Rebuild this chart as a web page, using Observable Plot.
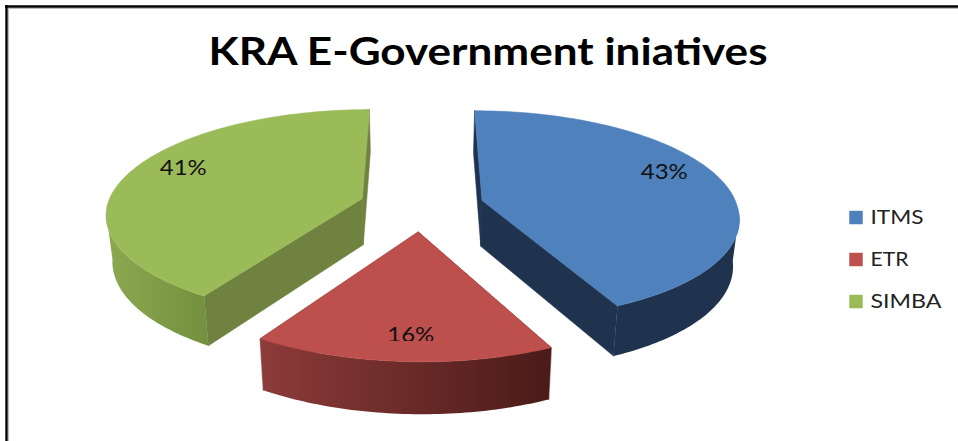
<!DOCTYPE html>
<html>
<head>
<meta charset="utf-8">
<script src="https://cdn.jsdelivr.net/npm/d3@7"></script>
<script src="https://cdn.jsdelivr.net/npm/@observablehq/plot@0.6"></script>
<style>
  html, body { margin: 0; padding: 0; background: #fff; }
</style>
</head>
<body>
<div id="chart"></div>
<script>
// Chart content
const title = "KRA E-Government iniatives";
const names = ["ITMS", "ETR", "SIMBA"];
const shares = [43, 16, 41];
const topColors = ["#4f81bd", "#bd504c", "#9bbb59"];
const cutColors = ["#1f334e", "#6d2a28", "#6f8240"];
const sideStart = ["#1f334e", "#8c3b39", "#8ca850"];
const sideEnd = ["#1f334e", "#4a1b19", "#74903f"];

// Layout of the tilted pie
const W = 958, H = 441;
const view = {cx: 421, cy: 205.3, rx: 255, ry: 103.5, tilt: 0.14, skew: 0.035};
const explode = 0.245;
const depth = {shrink: 0.98, base: 46, grow: 0.04};
const labelBearing = [69.4, 182.5, 292.5];
const labelRadius = 0.81;
const rad = Math.PI / 180;

// Perspective of a point on the pie's top plane
function project(X, Y) {
  const w = 1 + view.tilt * Y;
  const y = view.cy - view.ry * Y / w;
  return [view.cx + view.rx * X / w + view.skew * Math.max(0, y - view.cy), y];
}
// The same point at the bottom of the extrusion
function drop([x, y]) {
  return [view.cx + (x - view.cx) * depth.shrink, y + depth.base + (y - 200) * depth.grow];
}

// Angular extent of every slice, clockwise from twelve o'clock
let running = 0;
const slices = shares.map((v, i) => {
  const a0 = running * 3.6;
  running += v;
  const a1 = running * 3.6;
  const mid = (a0 + a1) / 2;
  return {
    i, a0, a1,
    ox: explode * Math.sin(mid * rad),
    oy: explode * Math.cos(mid * rad)
  };
});
const onRim = (s, a) => project(s.ox + Math.sin(a * rad), s.oy + Math.cos(a * rad));

const topFaces = [], cutFaces = [], rimWalls = [];
const pushPoly = (list, id, fill, pts) =>
  pts.forEach(([x, y]) => list.push({id, fill, x, y}));

for (const s of slices) {
  const center = project(s.ox, s.oy);
  const steps = Math.ceil(s.a1 - s.a0);
  const angles = d3.range(steps + 1).map(k => s.a0 + (s.a1 - s.a0) * k / steps);
  const rim = angles.map(a => onRim(s, a));
  pushPoly(topFaces, `top${s.i}`, topColors[s.i], [center, ...rim]);

  // Flat cut walls on both sides of the wedge
  const first = rim[0], last = rim[rim.length - 1];
  pushPoly(cutFaces, `cutA${s.i}`, cutColors[s.i], [first, center, drop(center), drop(first)]);
  pushPoly(cutFaces, `cutB${s.i}`, cutColors[s.i], [last, center, drop(center), drop(last)]);

  // Outer wall: only the part facing the viewer, shaded across its width
  const front = angles.filter(a => a >= 97 && a <= 263).map(a => onRim(s, a));
  pushPoly(rimWalls, `rim${s.i}`, `url(#wall-${s.i})`, [...front, ...front.map(drop).reverse()]);
}

const labels = slices.map(s => {
  const b = labelBearing[s.i];
  const [x, y] = project(s.ox + labelRadius * Math.sin(b * rad), s.oy + labelRadius * Math.cos(b * rad));
  return {x, y, text: `${shares[s.i]}%`, i: s.i};
});

// Horizontal gradients used by the outer walls
function wallGradients() {
  const defs = d3.create("svg:defs");
  slices.forEach(s => {
    const g = defs.append("linearGradient").attr("id", `wall-${s.i}`)
      .attr("x1", 0).attr("x2", 1).attr("y1", 0).attr("y2", 0);
    g.append("stop").attr("offset", 0).attr("stop-color", sideStart[s.i]);
    g.append("stop").attr("offset", 1).attr("stop-color", sideEnd[s.i]);
  });
  return defs.node();
}

// Sets the drawn width of each text so its glyphs run wide
function widen(widthOf, inner) {
  return (index, scales, values, dims, ctx, next) => {
    const g = inner ? inner(index, scales, values, dims, ctx, next) : next(index, scales, values, dims, ctx);
    g.querySelectorAll("text").forEach(t => {
      t.setAttribute("textLength", widthOf(t.textContent));
      t.setAttribute("lengthAdjust", "spacingAndGlyphs");
    });
    return g;
  };
}

// Keeps the lower part of one label from showing
function clipBelow(limit) {
  return (index, scales, values, dims, ctx, next) => {
    const g = next(index, scales, values, dims, ctx);
    const id = "label-clip-" + limit;
    const cp = d3.create("svg:clipPath").attr("id", id);
    cp.append("rect").attr("x", 0).attr("y", 0).attr("width", W).attr("height", limit);
    g.insertBefore(cp.node(), g.firstChild);
    g.setAttribute("clip-path", `url(#${id})`);
    return g;
  };
}

const uiFont = "Lato, 'Open Sans', sans-serif";
const legendX = 855.5, legendTextX = 870, legendTop = 217, legendStep = 42;
const legendRows = names.map((name, i) => ({name, color: topColors[i], y: legendTop + i * legendStep}));
const legendWidths = {ITMS: 53, ETR: 38, SIMBA: 71};

const polyStyle = {x: "x", y: "y", z: "id", fill: "fill", stroke: "fill", strokeWidth: 0.6, curve: "linear-closed"};

const chart = Plot.plot({
  width: W,
  height: H,
  margin: 0,
  x: {domain: [0, W], range: [0, W], axis: null},
  y: {domain: [0, H], range: [0, H], axis: null},
  color: {type: "identity"},
  style: {background: "#fff"},
  marks: [
    wallGradients,

    // Frame along the top and the left
    Plot.ruleY([8], {x1: 8, x2: W, stroke: "#bdbdbd", strokeWidth: 1.2}),
    Plot.ruleX([8], {y1: 8, y2: H, stroke: "#bdbdbd", strokeWidth: 1.2}),
    Plot.ruleY([6], {x1: 5, x2: W, stroke: "#000", strokeWidth: 2.4}),
    Plot.ruleX([6], {y1: 5, y2: H, stroke: "#000", strokeWidth: 2.4}),

    Plot.text([title], {
      x: () => 487.5, y: () => 52, text: d => d,
      fontFamily: uiFont, fontWeight: 700, fontSize: 38, fill: "#000",
      textAnchor: "middle", lineAnchor: "middle", render: widen(() => 559)
    }),

    // Pie: walls first, then the top faces
    Plot.line(cutFaces, polyStyle),
    Plot.line(rimWalls, {...polyStyle, stroke: null}),
    Plot.line(topFaces, polyStyle),

    // Percent labels
    Plot.text(labels.filter(d => d.i !== 1), {
      x: "x", y: "y", text: "text", fontFamily: uiFont, fontSize: 21, fill: "#111",
      textAnchor: "middle", lineAnchor: "middle", render: widen(() => 47)
    }),
    Plot.text(labels.filter(d => d.i === 1), {
      x: "x", y: "y", dy: 2, text: "text", fontFamily: uiFont, fontSize: 21, fill: "#111",
      textAnchor: "middle", lineAnchor: "middle", render: widen(() => 47, clipBelow(338.5))
    }),

    // Legend
    Plot.dot(legendRows, {
      x: () => legendX, y: "y", symbol: "square", r: 7.6, fill: "color", stroke: "none"
    }),
    Plot.text(legendRows, {
      x: () => legendTextX, y: "y", text: "name", fontFamily: uiFont, fontSize: 19, fill: "#222",
      textAnchor: "start", lineAnchor: "middle", render: widen(t => legendWidths[t])
    })
  ]
});

document.getElementById("chart").appendChild(chart);
</script>
</body>
</html>
